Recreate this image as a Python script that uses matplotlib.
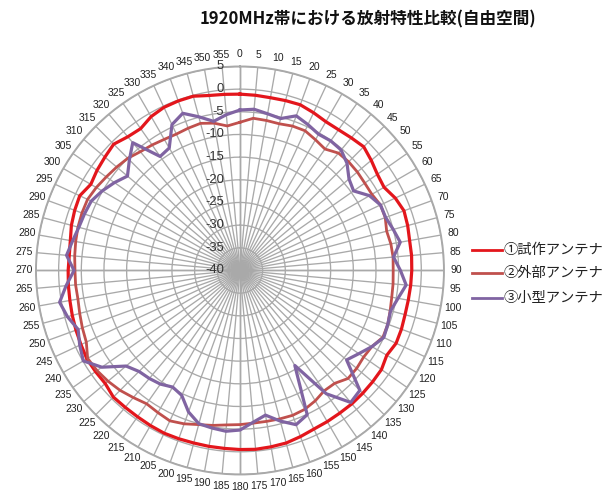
import numpy as np
import matplotlib
matplotlib.use("Agg")
import matplotlib.pyplot as plt
from matplotlib.lines import Line2D

plt.rcParams["font.family"] = ["Noto Sans CJK JP", "DejaVu Sans"]

# 測定角度 (度)
angles = list(range(0, 360, 5))

# 各アンテナの相対利得 (dB)、0°から5°刻み
gain_prototype = [
    -1.1, -1.2, -1.3, -1.2, -1.1, -1.6, -2.1, -2.1, -1.8, -1.4, -2.2, -3.0,
    -3.3, -2.2, -1.5, -1.7, -2.0, -2.0, -2.1, -2.2, -2.3, -2.3, -2.1, -2.0,
    -2.6, -1.9, -1.8, -1.7, -1.6, -1.6, -1.5, -1.4, -1.0, -0.6, -0.5, -0.4,
    -0.5, -0.6, -0.6, -0.6, -0.5, -0.4, -0.5, -0.6, -0.6, -0.5, -1.2, -1.1,
    -1.0, -1.3, -1.5, -1.7, -1.9, -2.0, -2.1, -2.2, -2.0, -1.5, -1.2, -1.0,
    -2.0, -1.5, -1.1, -0.6, -1.5, -1.8, -0.8, -0.3, -0.2, -0.2, -0.8, -1.0,
]
gain_external = [
    -7.3, -6.3, -6.4, -6.5, -6.1, -6.0, -6.7, -7.3, -6.2, -6.1, -6.2, -6.4,
    -6.4, -5.8, -5.9, -6.5, -6.2, -6.1, -6.2, -6.1, -6.0, -5.7, -5.3, -5.2,
    -6.4, -6.7, -6.4, -6.3, -7.5, -7.6, -6.8, -6.2, -6.0, -6.1, -6.2, -6.2,
    -6.0, -5.8, -5.3, -4.8, -4.0, -3.4, -3.8, -4.1, -3.4, -2.6, -2.0, -1.5,
    -1.2, -2.6, -3.0, -3.4, -3.7, -3.6, -3.6, -3.4, -3.2, -3.0, -2.9, -2.9,
    -3.4, -4.0, -4.5, -5.0, -5.8, -6.2, -6.6, -6.8, -6.6, -6.4, -7.0, -8.0,
]
gain_small = [
    -4.6, -4.3, -4.9, -5.3, -3.7, -4.5, -5.3, -5.1, -5.3, -6.6, -8.6, -9.4,
    -7.0, -5.8, -5.8, -5.0, -4.1, -6.0, -4.6, -3.2, -4.6, -5.6, -5.3, -5.0,
    -6.4, -8.0, -9.3, -2.6, -2.0, -6.8, -15.8, -4.9, -3.8, -5.6, -7.6, -6.4,
    -4.8, -4.4, -4.7, -5.0, -6.8, -9.6, -10.3, -9.4, -8.9, -8.5, -7.2, -2.8,
    -0.1, -1.0, -2.0, -0.6, 0.4, -1.5, -3.4, -1.6, -2.5, -3.2, -3.5, -3.8,
    -4.9, -6.2, -7.6, -5.5, -3.2, -9.3, -8.8, -4.5, -3.1, -4.9, -6.6, -5.5,
]

series_labels = ["①試作アンテナ", "②外部アンテナ", "③小型アンテナ"]
series_colors = ["#E3161C", "#C0504D", "#8064A2"]
series_widths = [2.3, 2.0, 2.3]

r_ticks = list(range(5, -45, -5))
theta_ticks = list(range(0, 360, 5))

title = "1920MHz帯における放射特性比較(自由空間)"

fig = plt.figure(figsize=(6.15, 4.92), dpi=100)
ax = fig.add_axes([0.0585, 0.0356, 0.6634, 0.8293], projection="polar")
ax.set_theta_zero_location("N")
ax.set_theta_direction(-1)
ax.set_ylim(-40, 5)

# グリッド: 5°ごとの放射線と 5dB ごとの同心円
ax.set_xticks(np.deg2rad(theta_ticks))
ax.set_xticklabels([])
ax.set_yticks(r_ticks)
ax.set_yticklabels([])
ax.tick_params(length=0)
ax.grid(True, color="#a9a9a9", linewidth=0.95)
ax.spines["polar"].set_color("#a9a9a9")
ax.spines["polar"].set_linewidth(1.4)
for a in (0, 90, 180, 270):
    ax.plot([np.deg2rad(a)] * 2, [-40, 5], color="#8a8a8a", linewidth=1.0, zorder=1)

# 角度ラベル
for a in theta_ticks:
    ax.text(np.deg2rad(a), 7.7, str(a), ha="center", va="center",
            fontsize=7.5, family=["Liberation Sans", "DejaVu Sans"],
            color="#222222", clip_on=False)

# 利得ラベル (0°軸の左側)
for v in r_ticks:
    ax.annotate(str(v), xy=(0, v), xytext=(-16, 0), textcoords="offset pixels",
                ha="right", va="center", fontsize=9.4,
                family=["Liberation Sans", "DejaVu Sans"], color="#333333")

# 放射パターン
theta = np.deg2rad(angles + [angles[0]])
for gains, color, lw in zip([gain_prototype, gain_external, gain_small],
                            series_colors, series_widths):
    ax.plot(theta, gains + [gains[0]], color=color, linewidth=lw, zorder=3)

# 凡例
legend_y = [250, 273, 298]
for label, color, y in zip(series_labels, series_colors, legend_y):
    fy = 1 - y / 492
    fig.add_artist(Line2D([472 / 615, 502 / 615], [fy, fy], color=color, linewidth=2.0))
    fig.text(503 / 615, fy, label, ha="left", va="center", fontsize=10.3, color="#222222")

fig.text(368 / 615, 1 - 19 / 492, title, ha="center", va="center",
         fontsize=12, fontweight="bold", color="#111111")

fig.savefig("out.png", dpi=100)
